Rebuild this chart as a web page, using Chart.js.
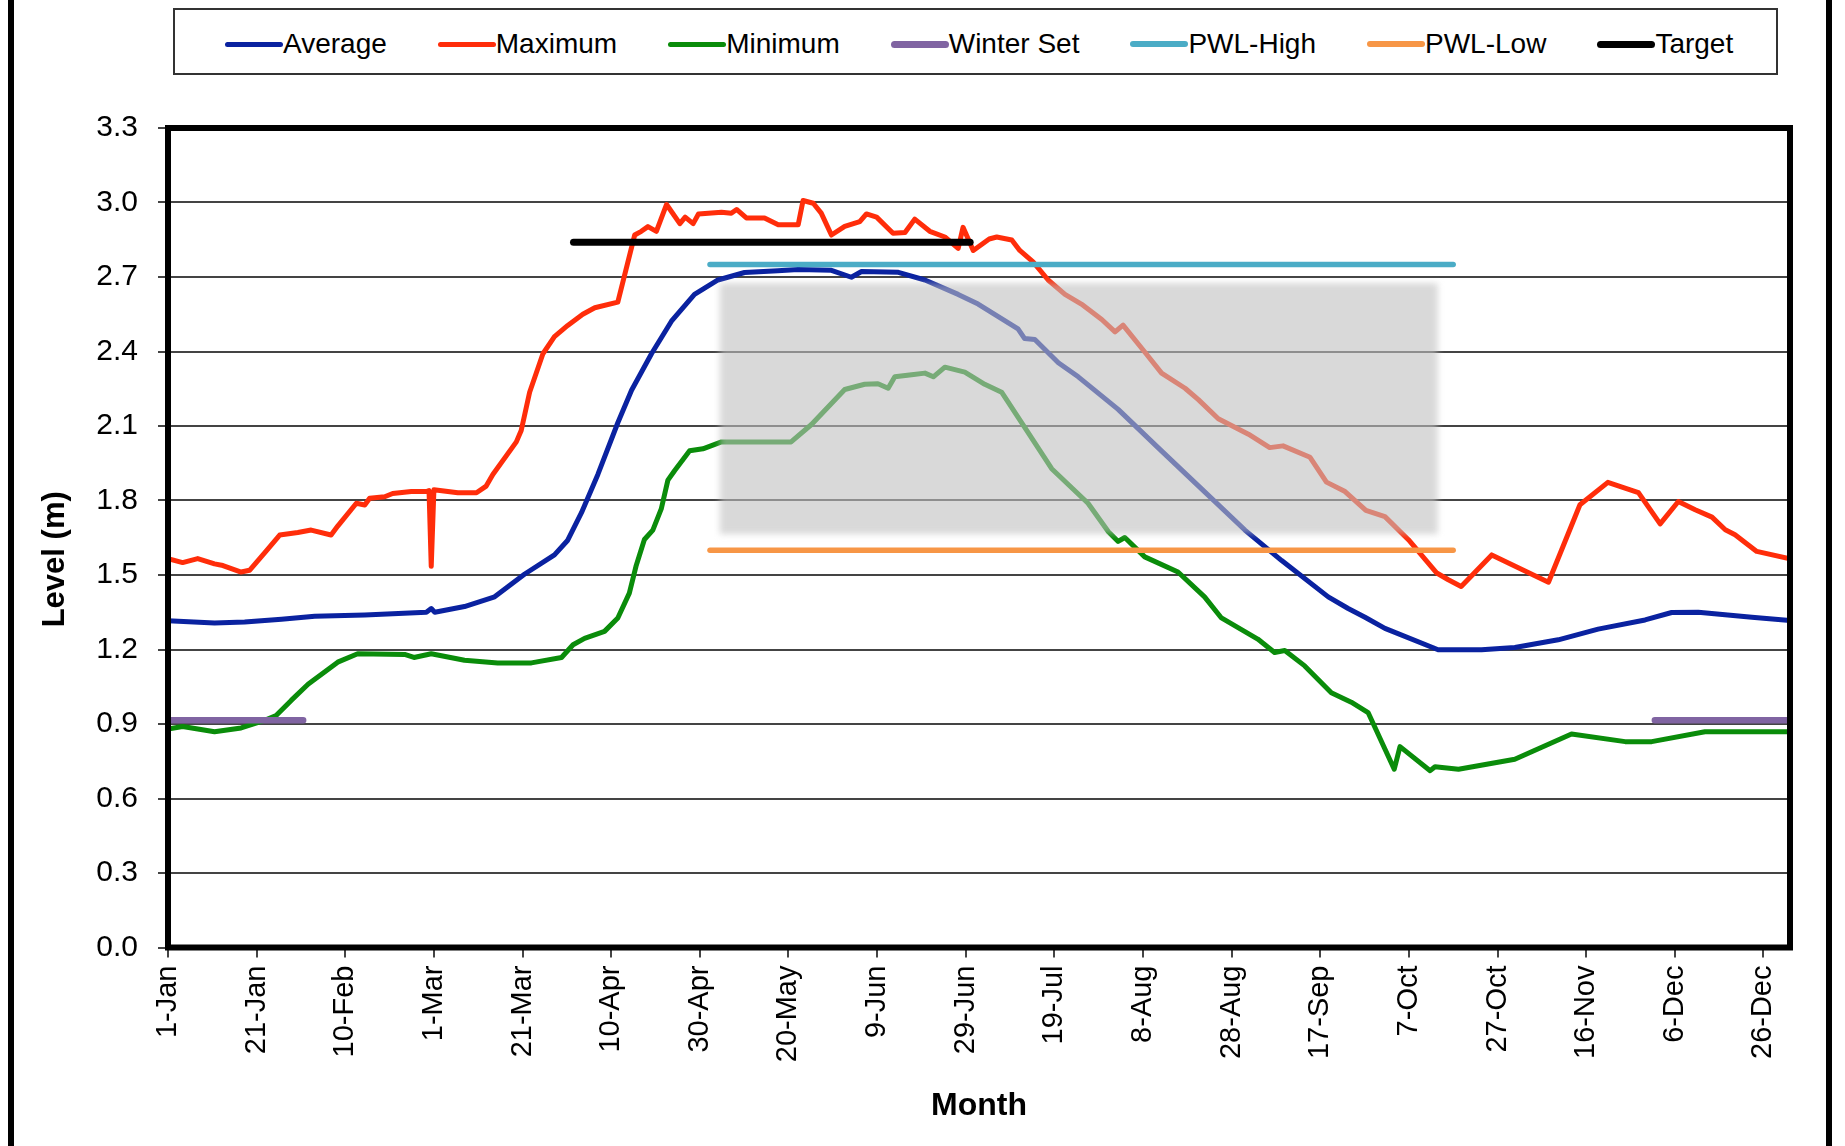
<!DOCTYPE html>
<html>
<head>
<meta charset="utf-8">
<script src="https://cdn.jsdelivr.net/npm/chart.js@4.4.1/dist/chart.umd.min.js"></script>
<style>
  html, body { margin: 0; padding: 0; background: #fff; }
  #wrap { position: relative; width: 1845px; height: 1146px; overflow: hidden; font-family: 'Liberation Sans', Arial, sans-serif; }
  #chartBox { position: absolute; left: 0; top: 0; width: 1845px; height: 1146px; }
  #frame { position: absolute; left: 8px; top: -10px; width: 1812px; height: 1170px; border-left: 6px solid #000; border-right: 6px solid #000; pointer-events: none; }
  #legend { position: absolute; left: 173px; top: 8px; width: 1601px; height: 63px; border: 2px solid #333; background: #fff; }
  #legendRow { position: absolute; left: 50px; top: 20px; height: 28px; display: flex; align-items: center; gap: 51px; }
  .item { display: flex; align-items: center; height: 28px; }
  .swatch { display: inline-block; width: 58px; border-radius: 4px; }
  .label { font-size: 28px; line-height: 28px; color: #000; white-space: nowrap; }
</style>
</head>
<body>
<div id="wrap">
  <div id="chartBox"><canvas id="chart"></canvas></div>
  <div id="legend"><div id="legendRow"></div></div>
  <div id="frame"></div>
</div>
<script>
// day of year (1-Jan = 0, leap year) and level in metres
const tickLabels = ['1-Jan', '21-Jan', '10-Feb', '1-Mar', '21-Mar', '10-Apr', '30-Apr', '20-May', '9-Jun', '29-Jun',
  '19-Jul', '8-Aug', '28-Aug', '17-Sep', '7-Oct', '27-Oct', '16-Nov', '6-Dec', '26-Dec'];

const avgDays = [0, 10.5, 17.3, 25.6, 33.1, 44.4, 58.3, 59.4, 60.2, 66.9, 73.7, 80.5, 87.2, 90.2, 93.3, 97, 101.5, 104.6,
  109.1, 113.6, 118.8, 124.1, 130.1, 137.6, 142.2, 149.7, 154.2, 156.5, 164.8, 170.8, 178.3, 182.8, 191.8, 193.3, 195.6,
  200.9, 205.4, 214.4, 223.4, 232.5, 243, 251.3, 261.8, 266.3, 270.1, 274.6, 286.6, 296.4, 303.9, 313.7, 322.7, 333.3,
  339.3, 345.3, 357.4, 366];
const avgLevels = [1.316, 1.307, 1.311, 1.322, 1.334, 1.339, 1.35, 1.365, 1.35, 1.373, 1.412, 1.504, 1.581, 1.64, 1.751,
  1.905, 2.113, 2.244, 2.391, 2.522, 2.63, 2.688, 2.718, 2.725, 2.73, 2.727, 2.699, 2.722, 2.719, 2.688, 2.63, 2.591,
  2.491, 2.452, 2.448, 2.355, 2.298, 2.167, 2.013, 1.859, 1.681, 1.558, 1.412, 1.365, 1.33, 1.285, 1.199, 1.199, 1.208,
  1.239, 1.282, 1.319, 1.349, 1.35, 1.33, 1.317];

const maxDays = [0, 3.3, 6.7, 10.5, 12.4, 16.5, 18.4, 21.8, 25.2, 29.3, 32.3, 36.8, 38.3, 42.5, 44.4, 45.5, 48.9, 50.7,
  54.9, 58.3, 58.9, 59.4, 60, 65.4, 69.6, 71.8, 73.3, 78.6, 79.7, 81.6, 84.6, 87.2, 90.2, 93.6, 96.3, 101.5, 105.3,
  106.8, 108.3, 110.2, 112.5, 115.5, 116.7, 118.5, 119.7, 124.9, 127.1, 128.3, 130.5, 134.6, 137.7, 142.2, 143.3, 145.6,
  147.4, 149.7, 152.7, 156.1, 157.6, 159.9, 163.6, 166.3, 168.5, 171.9, 175.3, 178.3, 179.4, 181.7, 185.3, 187, 190.4,
  192.2, 195.2, 198.6, 202.4, 206.1, 210.7, 213.7, 215.5, 220.4, 224.2, 229.5, 232.5, 237, 243.8, 248.6, 251.6, 257.7,
  261.4, 265.6, 270.3, 274.6, 279.9, 286.3, 288.9, 291.8, 298.7, 311.5, 318.6, 324.9, 331.8, 336.7, 340.8, 344.6, 348.4,
  351.4, 353.6, 358.5, 366];
const maxLevels = [1.566, 1.55, 1.566, 1.545, 1.538, 1.512, 1.519, 1.589, 1.661, 1.671, 1.681, 1.661, 1.697, 1.789, 1.782,
  1.809, 1.815, 1.828, 1.836, 1.836, 1.84, 1.535, 1.843, 1.831, 1.831, 1.858, 1.905, 2.036, 2.082, 2.236, 2.391, 2.46,
  2.505, 2.55, 2.576, 2.599, 2.869, 2.884, 2.903, 2.884, 2.992, 2.915, 2.941, 2.915, 2.954, 2.961, 2.957, 2.972, 2.938,
  2.938, 2.91, 2.91, 3.008, 2.997, 2.957, 2.869, 2.904, 2.923, 2.954, 2.941, 2.876, 2.879, 2.933, 2.884, 2.861, 2.815,
  2.9, 2.807, 2.853, 2.861, 2.849, 2.807, 2.761, 2.688, 2.63, 2.591, 2.529, 2.479, 2.506, 2.398, 2.313, 2.252, 2.206,
  2.129, 2.067, 2.013, 2.02, 1.974, 1.874, 1.836, 1.76, 1.735, 1.642, 1.508, 1.481, 1.454, 1.581, 1.471, 1.783, 1.873,
  1.832, 1.706, 1.796, 1.763, 1.733, 1.682, 1.662, 1.595, 1.565];

const minDays = [0, 3.3, 10.5, 16.5, 21.8, 24.4, 27.8, 31.6, 38.3, 42.8, 53.4, 55.5, 59.4, 66.9, 74.4, 82, 88.8, 91.4, 94,
  98.5, 101.5, 104.1, 105.6, 107.5, 109.4, 111.3, 112.8, 114.3, 117.7, 120.7, 124.9, 140.6, 145.2, 152.7, 157.2, 160.2,
  162.5, 164, 167.8, 170.8, 172.7, 175.3, 179.8, 184.3, 188.1, 191.8, 199.4, 207.6, 212.2, 214.4, 215.9, 220.4, 227.9,
  233.9, 237.7, 245.9, 249.7, 252, 256.5, 262.5, 267, 270.8, 276.7, 278, 284.8, 285.9, 291.2, 303.9, 316.7, 328.8, 334.8,
  346.8, 366];
const minLevels = [0.88, 0.89, 0.869, 0.884, 0.915, 0.934, 0.995, 1.06, 1.149, 1.183, 1.18, 1.168, 1.183, 1.157, 1.146,
  1.146, 1.168, 1.219, 1.245, 1.273, 1.327, 1.427, 1.535, 1.643, 1.681, 1.766, 1.882, 1.92, 2, 2.008, 2.036, 2.036, 2.106,
  2.247, 2.268, 2.27, 2.252, 2.298, 2.306, 2.313, 2.298, 2.337, 2.317, 2.268, 2.236, 2.136, 1.928, 1.789, 1.674, 1.635,
  1.651, 1.573, 1.512, 1.412, 1.327, 1.242, 1.188, 1.196, 1.134, 1.026, 0.988, 0.946, 0.718, 0.809, 0.712, 0.728, 0.718,
  0.758, 0.86, 0.829, 0.829, 0.869, 0.869];

// two winter segments, the null makes the gap
const winterDays = [0, 30.5, 183, 335.5, 366];
const winterLevels = [0.915, 0.915, null, 0.915, 0.915];
const pwlDays = [122.3, 290];
const pwlHighLevels = [2.75, 2.75];
const pwlLowLevels = [1.6, 1.6];
const targetDays = [91.5, 181];
const targetLevels = [2.84, 2.84];

// grey band laid over the lines
const shadeDays = [124.5, 286.5];
const shadeLevels = [1.665, 2.675];

const FONT = "'Liberation Sans', Arial, sans-serif";
Chart.defaults.font.family = FONT;
Chart.defaults.color = '#000';

const pts = (days, levels) => days.map((d, i) => ({ x: d, y: levels[i] }));

const line = (label, data, color, width, order) => ({
  label: label,
  data: data,
  borderColor: color,
  backgroundColor: color,
  borderWidth: width,
  pointRadius: 0,
  tension: 0,
  fill: false,
  spanGaps: false,
  borderJoinStyle: 'round',
  borderCapStyle: 'round',
  order: order,
});

const shadePlugin = {
  id: 'shade',
  afterDatasetsDraw(chart) {
    const { ctx, scales } = chart;
    const x0 = scales.x.getPixelForValue(shadeDays[0]);
    const x1 = scales.x.getPixelForValue(shadeDays[1]);
    const y0 = scales.y.getPixelForValue(shadeLevels[1]);
    const y1 = scales.y.getPixelForValue(shadeLevels[0]);
    ctx.save();
    ctx.filter = 'blur(3px)';
    ctx.fillStyle = 'rgba(192,192,192,0.6)';
    ctx.fillRect(x0, y0, x1 - x0, y1 - y0);
    ctx.restore();
  },
};

// thick black box round the plot area
const framePlugin = {
  id: 'plotFrame',
  afterDraw(chart) {
    const { ctx, chartArea: a } = chart;
    ctx.save();
    ctx.strokeStyle = '#000';
    ctx.lineWidth = 6;
    ctx.strokeRect(a.left, a.top, a.right - a.left, a.bottom - a.top);
    ctx.restore();
  },
};

const chart = new Chart(document.getElementById('chart'), {
  type: 'line',
  data: {
    datasets: [
      line('Average', pts(avgDays, avgLevels), '#0a22a0', 5, 7),
      line('Maximum', pts(maxDays, maxLevels), '#ff2d0a', 5, 6),
      line('Minimum', pts(minDays, minLevels), '#0a8c0a', 5, 5),
      line('Winter Set', pts(winterDays, winterLevels), '#8064a2', 6.5, 4),
      line('PWL-High', pts(pwlDays, pwlHighLevels), '#4bacc6', 5.5, 3),
      line('PWL-Low', pts(pwlDays, pwlLowLevels), '#f79646', 5.5, 2),
      line('Target', pts(targetDays, targetLevels), '#000000', 7, 1),
    ],
  },
  options: {
    responsive: true,
    maintainAspectRatio: false,
    animation: false,
    layout: { padding: { top: 128, right: 55, bottom: 0, left: 0 } },
    plugins: {
      legend: { display: false },
      tooltip: { enabled: false },
    },
    scales: {
      x: {
        type: 'linear',
        min: 0,
        max: 366,
        afterFit: (s) => { s.height = 198.5; },
        border: { display: false },
        grid: { drawOnChartArea: false, drawTicks: true, tickLength: 10, color: '#444', lineWidth: 2 },
        ticks: {
          stepSize: 20,
          includeBounds: false,
          autoSkip: false,
          minRotation: 90,
          maxRotation: 90,
          padding: 8,
          font: { size: 29 },
          callback: (v) => tickLabels[v / 20],
        },
        title: { display: true, text: 'Month', font: { size: 32, weight: 'bold' }, padding: { top: 0, bottom: 21 } },
      },
      y: {
        min: 0,
        max: 3.3,
        afterFit: (s) => { s.width = 168; },
        border: { display: false },
        grid: { color: '#444', lineWidth: 2, tickLength: 10 },
        ticks: { stepSize: 0.3, padding: 20, font: { size: 30 }, callback: (v) => Number(v).toFixed(1) },
        // trailing spaces push the title a little below the axis centre, as in the original
        title: { display: true, text: 'Level (m)     ', font: { size: 31, weight: 'bold' }, padding: { top: 37, bottom: 0 } },
      },
    },
  },
  plugins: [shadePlugin, framePlugin],
});

// legend in a framed box, built from the datasets
const row = document.getElementById('legendRow');
chart.data.datasets.forEach((ds) => {
  const item = document.createElement('div');
  item.className = 'item';
  const sw = document.createElement('span');
  sw.className = 'swatch';
  sw.style.background = ds.borderColor;
  sw.style.height = Math.round(ds.borderWidth) + 'px';
  const txt = document.createElement('span');
  txt.className = 'label';
  txt.textContent = ds.label;
  item.appendChild(sw);
  item.appendChild(txt);
  row.appendChild(item);
});
</script>
</body>
</html>
